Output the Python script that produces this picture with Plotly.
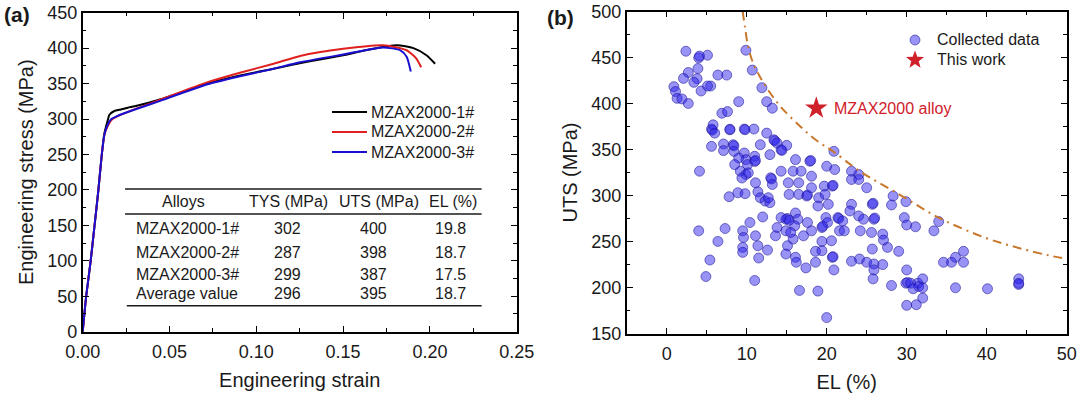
import math
import plotly.graph_objects as go

# ---------------- Panel (a) data: engineering stress-strain curves ----------------
strain_1 = [0, 0.002, 0.0045, 0.0067, 0.009, 0.011, 0.0125, 0.0144, 0.0154, 0.018, 0.022, 0.026,
            0.030, 0.045, 0.072, 0.09, 0.11, 0.13, 0.15, 0.165, 0.181, 0.1905, 0.198, 0.203]
stress_1 = [0, 50, 98, 147, 199, 250, 280, 298, 306, 311, 313.5, 316,
            318, 328, 350, 361, 371, 381, 390, 398, 404, 400, 390, 378]

strain_2 = [0, 0.002, 0.0045, 0.0067, 0.009, 0.011, 0.0125, 0.0144, 0.0163, 0.0202, 0.026, 0.0356,
            0.045, 0.072, 0.09, 0.11, 0.1252, 0.15, 0.173, 0.1866, 0.192, 0.195]
stress_2 = [0, 50, 98, 147, 199, 250, 278, 290, 298, 304, 310, 319,
            327.6, 352, 365, 378, 389, 399, 404, 397, 386, 373]

strain_3 = [0, 0.002, 0.0045, 0.0067, 0.009, 0.011, 0.0125, 0.0144, 0.0165, 0.0205, 0.026, 0.0356,
            0.045, 0.072, 0.09, 0.11, 0.1252, 0.15, 0.173, 0.183, 0.1866, 0.189]
stress_3 = [0, 50, 98, 147, 199, 250, 278, 292, 300, 305, 310, 318,
            326, 349, 360, 371, 380, 391, 401, 397, 388, 367]

curve_names = ["MZAX2000-1#", "MZAX2000-2#", "MZAX2000-3#"]
curve_colors = ["#000000", "#e0201e", "#1a0fd0"]

# table inside panel (a)
table_header = ["Alloys", "TYS (MPa)", "UTS (MPa)", "EL (%)"]
table_alloys = ["MZAX2000-1#", "MZAX2000-2#", "MZAX2000-3#", "Average value"]
table_tys = ["302", "287", "299", "296"]
table_uts = ["400", "398", "387", "395"]
table_el = ["19.8", "18.7", "17.5", "18.7"]

# ---------------- Panel (b) data: UTS vs EL ----------------
el_data = [2.4, 4.0, 4.1, 5.1, 2.7, 2.1, 3.9, 3.8, 3.4, 4.3, 5.5, 5.1, 0.9, 1.1, 1.3, 1.9, 2.7,
           6.4, 7.5, 9.9, 10.7, 11.9, 9.0, 12.5, 13.2, 6.9, 7.6, 5.6, 5.7, 5.8, 6.0, 7.9, 7.9,
           9.7, 9.8, 10.9, 12.5, 5.6, 7.1, 7.1, 8.3, 8.4, 8.4, 9.7, 9.9, 9.0, 8.5, 10.1, 11.0,
           11.0, 11.1, 11.7, 13.4, 13.5, 13.8, 12.9, 14.3, 14.4, 15.0, 9.2, 9.9, 10.2, 9.4, 8.9,
           7.8, 9.8, 11.1, 11.4, 11.7, 12.3, 12.9, 12.7, 13.0, 13.1, 13.2, 14.3, 16.1, 15.8, 15.2,
           15.3, 16.8, 16.5, 16.5, 17.5, 17.6, 17.9, 18.0, 18.1, 18.1, 19.0, 18.9, 19.7, 20.0,
           19.8, 20.2, 20.7, 20.8, 21.0, 20.9, 19.9, 20.1, 19.4, 19.5, 21.4, 21.5, 22.0, 21.6,
           22.2, 23.1, 23.1, 24.0, 24.0, 25.0, 23.1, 22.9, 24.0, 24.6, 25.7, 25.8, 25.9, 26.0,
           24.2, 25.6, 28.3, 28.1, 29.9, 29.7, 30.0, 31.1, 33.4, 34.0, 27.0, 27.1, 27.6, 29.0,
           25.7, 23.1, 24.1, 25.0, 25.9, 25.9, 25.8, 27.0, 30.0, 29.9, 30.1, 30.5, 31.4, 31.5,
           30.8, 32.0, 32.0, 32.0, 30.0, 31.2, 28.1, 34.6, 35.6, 36.1, 37.1, 37.1, 36.1, 40.1,
           44.0, 44.0, 44.0, 20.0, 18.9, 16.6, 17.4, 18.6, 18.6, 19.4, 20.7, 20.8, 20.9, 20.6,
           19.4, 16.1, 16.2, 17.1, 18.1, 17.6, 16.1, 16.4, 16.0, 15.8, 15.1, 14.9, 14.9, 15.1,
           15.3, 14.3, 13.8, 13.6, 14.9, 15.5, 12.6, 11.4, 11.1, 11.5, 11.0, 12.0, 10.4, 9.5,
           9.6, 9.5, 9.5, 7.3, 6.4, 5.4, 4.9, 4.0, 4.1]
uts_data = [456.8, 449.6, 451.5, 452.5, 433.7, 427.3, 438.0, 427.0, 423.0, 413.6, 419.0, 419.0,
            418.3, 413.0, 405.6, 405.0, 400.0, 430.9, 430.9, 457.9, 436.3, 417.2, 402.0, 402.0,
            394.9, 389.4, 391.2, 372.2, 371.0, 376.8, 367.8, 371.4, 372.0, 372.2, 371.5, 372.2,
            367.8, 353.4, 356.0, 348.8, 355.2, 354.0, 348.0, 346.2, 339.0, 340.8, 333.6, 333.6,
            342.6, 337.0, 338.0, 355.2, 360.6, 359.5, 357.0, 344.4, 349.8, 349.0, 354.5, 326.4,
            322.8, 324.6, 319.0, 303.0, 298.7, 302.0, 313.8, 304.0, 297.6, 294.0, 292.2, 297.6,
            319.2, 318.0, 312.0, 326.4, 339.0, 326.4, 313.8, 301.2, 326.4, 313.8, 301.2, 299.4,
            300.5, 337.2, 338.0, 321.0, 308.4, 297.6, 288.6, 310.2, 331.8, 301.2, 290.4, 310.2,
            311.0, 328.2, 348.0, 276.0, 270.6, 265.2, 266.5, 276.0, 275.0, 272.4, 261.6, 261.6,
            326.4, 317.4, 322.8, 317.4, 308.4, 290.4, 283.2, 277.8, 274.2, 290.4, 291.5, 274.2,
            275.5, 261.6, 259.8, 299.4, 289.7, 293.3, 276.0, 268.0, 266.0, 261.6, 271.7, 258.0,
            251.5, 243.6, 239.3, 241.8, 228.5, 231.0, 227.4, 225.6, 219.1, 209.4, 224.9, 219.1,
            204.7, 205.5, 204.7, 204.7, 201.1, 198.6, 209.4, 199.7, 188.5, 180.6, 181.3, 202.2,
            227.4, 227.4, 232.8, 239.3, 227.4, 199.7, 198.6, 209.4, 203.3, 204.5, 167.3, 196.1,
            196.8, 221.3, 227.4, 239.3, 240.0, 232.8, 233.5, 219.1, 250.8, 250.1, 232.8, 227.4,
            256.2, 261.6, 270.6, 281.0, 274.2, 267.0, 252.6, 245.4, 236.4, 274.2, 275.0, 273.0,
            276.0, 265.2, 256.2, 261.6, 259.8, 240.7, 245.4, 256.2, 232.1, 207.6, 276.7, 270.6,
            261.6, 254.4, 243.6, 238.2, 264.1, 250.1, 229.9, 211.9, 261.6, 326.4]

this_work_el = [18.7]
this_work_uts = [395]
this_work_label = "MZAX2000 alloy"
legend_b_names = ["Collected data", "This work"]

# boundary (dash-dot)
bound_el = [9.5, 9.8, 10.2, 10.8, 11.6, 12.5, 14.2, 16.7, 18.7, 20.8, 24.2, 29.2, 34.2, 40.0,
            44.0, 47.7, 50.0]
bound_uts = [500, 482, 461, 444, 430, 417, 397, 375, 360, 348, 326, 300.5, 275, 253.5,
             243, 235, 231]

FONT = "Liberation Sans, Arial, sans-serif"
W, H = 1080, 396
TXT = "#1a1a1a"
SCATTER_FILL = "rgba(40,30,235,0.48)"
SCATTER_EDGE = "rgba(30,20,150,0.55)"
STAR_COLOR = "#d0202a"


def px_x(p):
    return p / W


def px_y(p):
    return 1 - p / H


fig = go.Figure()

for sx, sy, nm, col in zip([strain_1, strain_2, strain_3], [stress_1, stress_2, stress_3],
                           curve_names, curve_colors):
    fig.add_trace(go.Scatter(x=sx, y=sy, mode="lines", name=nm,
                             line=dict(color=col, width=2, shape="spline", smoothing=0.6),
                             xaxis="x", yaxis="y", showlegend=False))

fig.add_trace(go.Scatter(x=el_data, y=uts_data, mode="markers", name=legend_b_names[0],
                         marker=dict(size=10, color=SCATTER_FILL, line=dict(color=SCATTER_EDGE, width=1)),
                         xaxis="x2", yaxis="y2", showlegend=False))
fig.add_trace(go.Scatter(x=this_work_el, y=this_work_uts, mode="markers", name=legend_b_names[1],
                         marker=dict(symbol="star", size=17, color=STAR_COLOR, line=dict(width=0)),
                         xaxis="x2", yaxis="y2", showlegend=False))
fig.add_trace(go.Scatter(x=bound_el, y=bound_uts, mode="lines", showlegend=False,
                         line=dict(color="#c8782c", width=2, dash="9px,5px,2px,5px", shape="spline"),
                         xaxis="x2", yaxis="y2"))

axis_common = dict(showline=True, linecolor="black", linewidth=1.6, mirror="allticks",
                   ticks="inside", ticklen=6, tickwidth=1.4, tickcolor="black",
                   showgrid=False, zeroline=False, automargin=False,
                   tickfont=dict(family=FONT, size=18, color=TXT))
minor_common = dict(ticks="inside", ticklen=3.5, tickcolor="black", tickwidth=1.2)

fig.update_layout(
    width=W, height=H,
    margin=dict(l=0, r=0, t=0, b=0, autoexpand=False),
    paper_bgcolor="white", plot_bgcolor="white",
    font=dict(family=FONT, color=TXT),
    showlegend=False,
    xaxis=dict(domain=[px_x(82.7), px_x(516.7)], range=[0, 0.25], dtick=0.05, tick0=0,
               tickformat=".2f", anchor="y", minor=dict(dtick=0.025, **minor_common),
               ticklabelstandoff=3,
               title=dict(text="Engineering strain", font=dict(family=FONT, size=20), standoff=12),
               **axis_common),
    yaxis=dict(domain=[px_y(331.7), px_y(12.7)], range=[0, 450], dtick=50, anchor="x",
               minor=dict(dtick=25, **minor_common),
               title=dict(text="Engineering stress (MPa)", font=dict(family=FONT, size=20), standoff=8),
               **axis_common),
    xaxis2=dict(domain=[px_x(626.7), px_x(1066.7)], range=[-5, 50], dtick=10, tick0=0, anchor="y2",
                minor=dict(dtick=5, **minor_common),
                ticklabelstandoff=3,
                title=dict(text="EL (%)", font=dict(family=FONT, size=20), standoff=12),
                **axis_common),
    yaxis2=dict(domain=[px_y(333.5), px_y(11.5)], range=[150, 500], dtick=50, anchor="x2",
                minor=dict(dtick=25, **minor_common),
                title=dict(text="UTS (MPa)", font=dict(family=FONT, size=20), standoff=8),
                **axis_common),
)

# panel labels
fig.add_annotation(x=px_x(2), y=px_y(15), xref="paper", yref="paper", text="<b>(a)</b>",
                   showarrow=False, xanchor="left", yanchor="middle", font=dict(family=FONT, size=21, color=TXT))
fig.add_annotation(x=px_x(545), y=px_y(17), xref="paper", yref="paper", text="<b>(b)</b>",
                   showarrow=False, xanchor="left", yanchor="middle", font=dict(family=FONT, size=21, color=TXT))

# ---- legend of panel (a) (drawn manually for exact spacing) ----
for i, (nm, col) in enumerate(zip(curve_names, curve_colors)):
    yy = 112 + 20 * i
    fig.add_shape(type="line", xref="paper", yref="paper", x0=px_x(332), x1=px_x(367),
                  y0=px_y(yy), y1=px_y(yy), line=dict(color=col, width=2))
    fig.add_annotation(x=px_x(369), y=px_y(yy), xref="paper", yref="paper", text=nm, showarrow=False,
                       xanchor="left", yanchor="middle", font=dict(family=FONT, size=16, color=TXT))

# ---- legend of panel (b) ----
cx, cy, r = 915, 40, 5
fig.add_shape(type="circle", xref="paper", yref="paper", x0=px_x(cx - r), x1=px_x(cx + r),
              y0=px_y(cy + r), y1=px_y(cy - r), fillcolor=SCATTER_FILL, line=dict(color=SCATTER_EDGE, width=1))
sx, sy, ro, ri = 915, 60, 9.5, 3.9
pts = []
for k in range(10):
    ang = -math.pi / 2 + k * math.pi / 5
    rr = ro if k % 2 == 0 else ri
    pts.append((px_x(sx + rr * math.cos(ang)), px_y(sy + rr * math.sin(ang))))
path = "M " + " L ".join(f"{a:.5f},{b:.5f}" for a, b in pts) + " Z"
fig.add_shape(type="path", xref="paper", yref="paper", path=path, fillcolor=STAR_COLOR, line=dict(width=0))
for i, nm in enumerate(legend_b_names):
    fig.add_annotation(x=px_x(935), y=px_y(40 + 20 * i), xref="paper", yref="paper", text=nm, showarrow=False,
                       xanchor="left", yanchor="middle", font=dict(family=FONT, size=16, color=TXT))

# this-work label
fig.add_annotation(x=this_work_el[0] + 2.0, y=this_work_uts[0], xref="x2", yref="y2", text=this_work_label,
                   showarrow=False, xanchor="left", yanchor="middle", font=dict(family=FONT, size=16, color=STAR_COLOR))

# table in panel (a)
tfont = dict(family=FONT, size=16, color=TXT)
for y0, xa, xb in [(201.3, 0.0244, 0.2298), (166.0, 0.0244, 0.2298), (36.7, 0.0254, 0.2298)]:
    fig.add_shape(type="line", xref="x", yref="y", x0=xa, x1=xb, y0=y0, y1=y0,
                  line=dict(color=TXT, width=1.6))
header_x = [0.0578, 0.1188, 0.1709, 0.2131]
for hx, txt in zip(header_x, table_header):
    fig.add_annotation(x=hx, y=183, xref="x", yref="y", text=txt, showarrow=False,
                       xanchor="center", yanchor="middle", font=tfont)
row_y = [144.9, 112.4, 81.4, 53.2]
for ry, a, t, u, e in zip(row_y, table_alloys, table_tys, table_uts, table_el):
    fig.add_annotation(x=0.0296, y=ry, xref="x", yref="y", text=a, showarrow=False,
                       xanchor="left", yanchor="middle", font=tfont)
    for cxv, v in zip([0.1182, 0.1674, 0.212], [t, u, e]):
        fig.add_annotation(x=cxv, y=ry, xref="x", yref="y", text=v, showarrow=False,
                           xanchor="center", yanchor="middle", font=tfont)

fig.write_html("out.html", config={"displayModeBar": False},
               post_script="document.body.style.margin='0';document.body.style.padding='0';")
